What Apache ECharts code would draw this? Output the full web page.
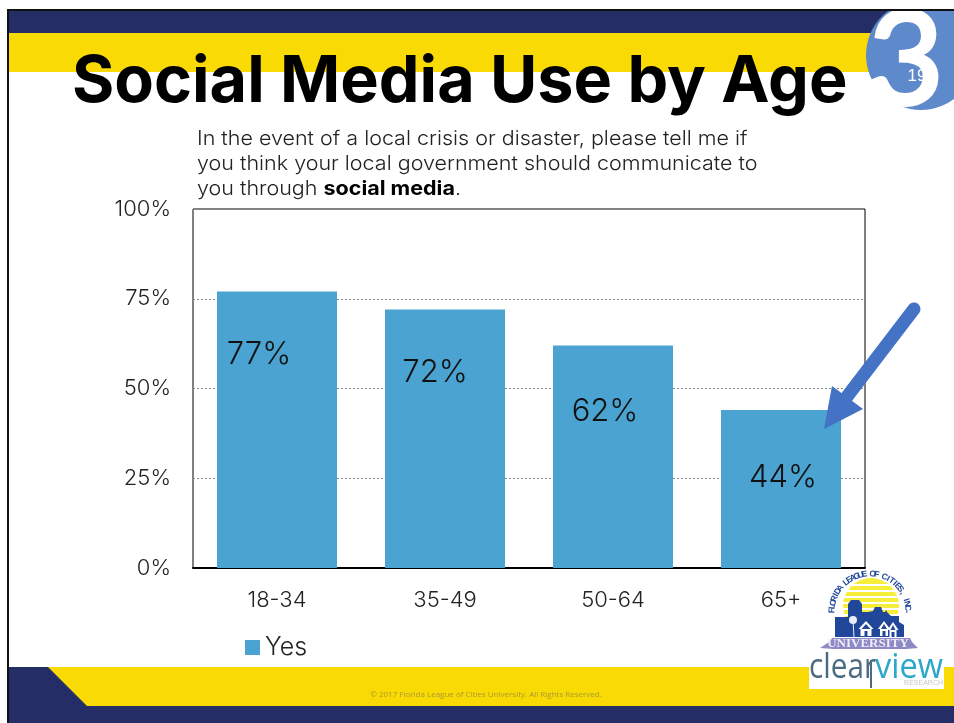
<!DOCTYPE html>
<html>
<head>
<meta charset="utf-8">
<style>html,body{margin:0;padding:0;background:#fff}#chart{width:954px;height:723px}</style>
<script src="https://cdn.jsdelivr.net/npm/echarts@6/dist/echarts.min.js"></script>
</head>
<body>
<div id="chart"></div>
<script>
// Survey results
const categories = ['18-34', '35-49', '50-64', '65+'];
const yesValues = [77, 72, 62, 44];
const seriesName = 'Yes';
const axisMax = 100;
const axisStep = 25;

// Slide text
const slideTitle = 'Social Media Use by Age';
const questionLines = [
  'In the event of a local crisis or disaster, please tell me if',
  'you think your local government should communicate to'
];
const footerText = '\u00A9 2017 Florida League of Cities University. All Rights Reserved.';

// Hand-placed label nudges, one per bar
const labelNudge = [[-18, 61], [-10, 61], [-8, 64], [2, 65]];

const NAVY = '#242d66', YELLOW = '#f9da04', BAR = '#4aa3d1', FONT = 'Inter', LIGHT = 300;
const LOGO_NAVY = '#21479a';

function rect(x, y, w, h, fill, z) {
  return { type: 'rect', shape: { x, y, width: w, height: h }, style: { fill }, z: z || 0, silent: true };
}
function poly(points, fill, z) {
  return { type: 'polygon', shape: { points }, style: { fill }, z: z || 0, silent: true };
}
function text(x, y, t, style, z, scaleX) {
  return { type: 'text', x, y, scaleX: scaleX || 1, style: Object.assign({ text: t, fontFamily: FONT, fill: '#111', textVerticalAlign: 'middle' }, style), z: z || 5, silent: true };
}

// Letters of the university name set round the top of the seal
function arcLetters(str, cx, cy, r, startDeg, endDeg) {
  const out = [];
  const n = str.length;
  for (let i = 0; i < n; i++) {
    const deg = startDeg + (endDeg - startDeg) * i / (n - 1);
    const a = deg * Math.PI / 180;
    out.push({
      type: 'text', x: cx + r * Math.sin(a), y: cy - r * Math.cos(a), rotation: -a, z: 7, silent: true,
      style: { text: str[i], fontFamily: 'Liberation Sans', fontWeight: 'bold', fontSize: 8.5, fill: LOGO_NAVY, textAlign: 'center', textVerticalAlign: 'middle' }
    });
  }
  return out;
}

// Seal: sun, skyline, houses and ribbon
function seal() {
  const cx = 871, cy = 606, r = 28;
  const items = [{ type: 'circle', shape: { cx, cy, r }, style: { fill: '#f7ee3a' }, z: 6, silent: true }];
  [584, 590, 596, 602, 608, 614].forEach(y => items.push(rect(841, y, 60, 2, '#fff', 6)));
  items.push(poly([[835, 637], [835, 617], [848, 617], [848, 604], [851, 600], [859, 600], [862, 604], [862, 612], [868, 612], [873, 611], [875, 607], [881, 607], [883, 612], [885, 612], [886, 610], [887, 612], [891, 616], [899, 616], [899, 622], [904, 625], [904, 637]], LOGO_NAVY, 7));
  // palm
  items.push({ type: 'line', shape: { x1: 853, y1: 620, x2: 854, y2: 637 }, style: { stroke: '#e8eef8', lineWidth: 1 }, z: 8, silent: true });
  items.push({ type: 'circle', shape: { cx: 853, cy: 620, r: 4 }, style: { fill: '#e8eef8' }, z: 8, silent: true });
  // houses
  [[866, 629, 13], [884, 629, 10], [893, 630, 9]].forEach(([hx, hy, hw]) => {
    items.push(poly([[hx - hw / 2 - 1, hy], [hx, hy - 8], [hx + hw / 2 + 1, hy]], '#fff', 8));
    items.push(rect(hx - hw / 2 + 1, hy, hw - 2, 7, '#fff', 8));
    items.push(poly([[hx - hw / 2 + 2, hy], [hx, hy - 5], [hx + hw / 2 - 2, hy]], LOGO_NAVY, 9));
    items.push(rect(hx - 1.5, hy + 2, 3, 5, LOGO_NAVY, 9));
  });
  // ribbon
  items.push(poly([[820, 648], [829, 642], [832, 638], [910, 638], [912, 642], [918, 648], [906, 649], [834, 649]], '#8d89c4', 7));
  items.push(text(868, 644, 'UNIVERSITY', { fontFamily: 'Liberation Serif', fontWeight: 'bold', fontSize: 13, fill: '#eeeef8', textAlign: 'center' }, 8));
  return items.concat(arcLetters('FLORIDA LEAGUE OF CITIES, INC.', 870, 612, 38, -88, 90));
}

const graphicElements = [
  // top band, badge and page frame
  rect(8, 11, 946, 22, NAVY),
  rect(8, 33, 946, 39, YELLOW),
  { type: 'circle', shape: { cx: 921, cy: 55, r: 55 }, style: { fill: '#5e8acb' }, z: 1, silent: true },
  text(906, 62, '3', { fontFamily: 'Lato', fontSize: 130, fill: '#fff', stroke: '#fff', lineWidth: 4, textAlign: 'center' }, 2),
  text(917, 76, '19', { fontFamily: 'Liberation Sans', fontSize: 17, fill: '#fff', textAlign: 'center' }, 3),
  rect(0, 0, 954, 9, '#fff', 3),
  rect(7, 9, 947, 2, '#111', 4),
  // bottom band
  rect(8, 667, 946, 56, NAVY),
  poly([[48, 667], [954, 667], [954, 706], [87, 706]], YELLOW, 1),
  rect(7, 9, 2, 714, '#111', 4),
  text(486, 695, footerText, { fontFamily: 'Open Sans', fontSize: 8, fill: '#a89a30', textAlign: 'center' }, 2),
  // heading and question
  text(72, 83, slideTitle, { fontWeight: 'bold', fontSize: 64.7, fill: '#000' }, 5),
  text(197, 139, questionLines[0], { fontSize: 20, fontWeight: LIGHT, fill: '#222' }, 5, 1.075),
  text(197, 164, questionLines[1], { fontSize: 20, fontWeight: LIGHT, fill: '#222' }, 5, 1.075),
  {
    type: 'text', x: 197, y: 189, z: 5, silent: true, scaleX: 1.075,
    style: {
      text: '{a|you through }{b|social media}{a|.}', textVerticalAlign: 'middle',
      rich: {
        a: { fontFamily: FONT, fontSize: 20, fontWeight: LIGHT, fill: '#222' },
        b: { fontFamily: FONT, fontSize: 20, fontWeight: 'bold', fill: '#000' }
      }
    }
  },
  // arrow pointing at the oldest group
  { type: 'polyline', shape: { points: [[914, 309], [846, 398]] }, style: { stroke: '#4472c4', lineWidth: 13, lineCap: 'round', fill: null }, z: 10, silent: true },
  poly([[824, 429], [832, 386], [863, 409]], '#4472c4', 10),
  // research logo
  rect(809, 650, 135, 39, '#fff', 6),
  text(809, 668, 'clear', { fontFamily: 'Open Sans', fontSize: 35, fill: '#4d6b80' }, 7, 0.85),
  text(875, 668, 'view', { fontFamily: 'Open Sans', fontSize: 35, fill: '#2aa7c9' }, 7, 0.93),
  rect(870, 660, 2, 28, '#4d6b80', 8),
  text(943, 683, 'RESEARCH', { fontFamily: 'Liberation Sans', fontSize: 7, fill: '#c4c9cc', textAlign: 'right' }, 7)
].concat(seal());

const chart = echarts.init(document.getElementById('chart'));
chart.setOption({
  animation: false,
  backgroundColor: '#fff',
  textStyle: { fontFamily: FONT },
  grid: { left: 193, right: 89, top: 209, bottom: 155, show: true, backgroundColor: 'transparent', borderColor: '#000', borderWidth: 1 },
  legend: {
    left: 240, top: 630, itemWidth: 15, itemHeight: 15, itemGap: 6,
    icon: 'rect', data: [seriesName],
    textStyle: { fontFamily: FONT, fontWeight: LIGHT, fontSize: 25, color: '#222' }
  },
  xAxis: {
    type: 'category', data: categories,
    axisLine: { lineStyle: { color: '#000', width: 2 } },
    axisTick: { show: false },
    axisLabel: { fontSize: 22, fontWeight: LIGHT, color: '#222', margin: 21 }
  },
  yAxis: {
    type: 'value', min: 0, max: axisMax, interval: axisStep,
    axisLine: { show: false }, axisTick: { show: false },
    axisLabel: { formatter: '{value}%', fontSize: 22, fontWeight: LIGHT, color: '#222', margin: 22 },
    splitLine: { lineStyle: { color: '#8a8a8a', type: [2, 2], width: 1 } }
  },
  series: [{
    name: seriesName, type: 'bar', data: yesValues.map((value, i) => ({
      value,
      label: { position: 'top', offset: [labelNudge[i][0], labelNudge[i][1] + 23] }
    })),
    barWidth: 120, itemStyle: { color: BAR },
    label: { show: true, formatter: '{c}%', fontSize: 31, fontWeight: LIGHT, color: '#111', fontFamily: FONT }
  }],
  graphic: { elements: graphicElements }
});
</script>
</body>
</html>
